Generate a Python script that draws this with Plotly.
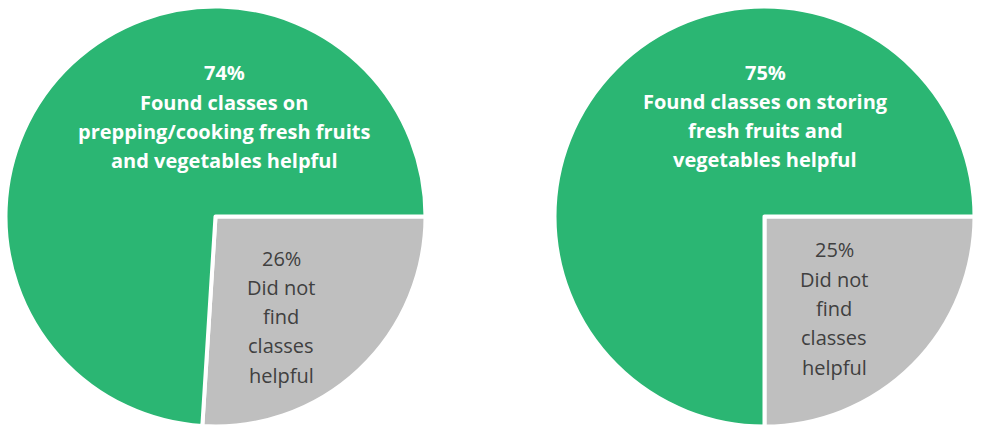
import plotly.graph_objects as go

# ---- data ----
pie_names = ["Prepping/cooking", "Storing"]
helpful_pct = [74, 75]
not_helpful_pct = [26, 25]
helpful_lines = [
    ["Found classes on", "prepping/cooking fresh fruits", "and vegetables helpful"],
    ["Found classes on storing", "fresh fruits and", "vegetables helpful"],
]
not_helpful_lines = ["Did not", "find", "classes", "helpful"]

GREEN = "#2BB673"
GRAY = "#BFBFBF"
W, H = 983, 433

# ---- layout geometry (pixels) ----
centers_x = [215.5, 764.5]
center_y = 216.5
radius = 210
green_text = [(224, 73), (765, 72)]
gray_text = [(281, 258), (834, 250)]
line_gap = 29.3

fig = go.Figure()
annotations = []
for i in range(2):
    cx = centers_x[i]
    fig.add_trace(go.Pie(
        labels=["Did not find classes helpful", " ".join(helpful_lines[i])],
        values=[not_helpful_pct[i], helpful_pct[i]],
        sort=False,
        direction="clockwise",
        rotation=90,
        marker=dict(colors=[GRAY, GREEN], line=dict(color="white", width=4)),
        textinfo="none",
        hoverinfo="label+percent",
        showlegend=False,
        domain=dict(x=[(cx - radius) / W, (cx + radius) / W],
                    y=[(H - center_y - radius) / H, (H - center_y + radius) / H]),
        name=pie_names[i],
    ))
    gx, gy = green_text[i]
    for k, line in enumerate([f"{helpful_pct[i]}%"] + helpful_lines[i]):
        annotations.append(dict(
            x=gx / W, y=1 - (gy + k * line_gap) / H, xref="paper", yref="paper",
            text=f"<b>{line}</b>", showarrow=False, xanchor="center", yanchor="middle",
            font=dict(family="Open Sans", size=20, color="white")))
    tx, ty = gray_text[i]
    for k, line in enumerate([f"{not_helpful_pct[i]}%"] + not_helpful_lines):
        annotations.append(dict(
            x=tx / W, y=1 - (ty + k * line_gap) / H, xref="paper", yref="paper",
            text=line, showarrow=False, xanchor="center", yanchor="middle",
            font=dict(family="Open Sans", size=20, color="#404040")))

fig.update_layout(
    width=W, height=H,
    margin=dict(l=0, r=0, t=0, b=0),
    paper_bgcolor="white", plot_bgcolor="white",
    annotations=annotations,
)
fig.write_html("out.html",
               config={"displayModeBar": False},
               post_script="document.body.style.margin='0';document.body.style.overflow='hidden';")
